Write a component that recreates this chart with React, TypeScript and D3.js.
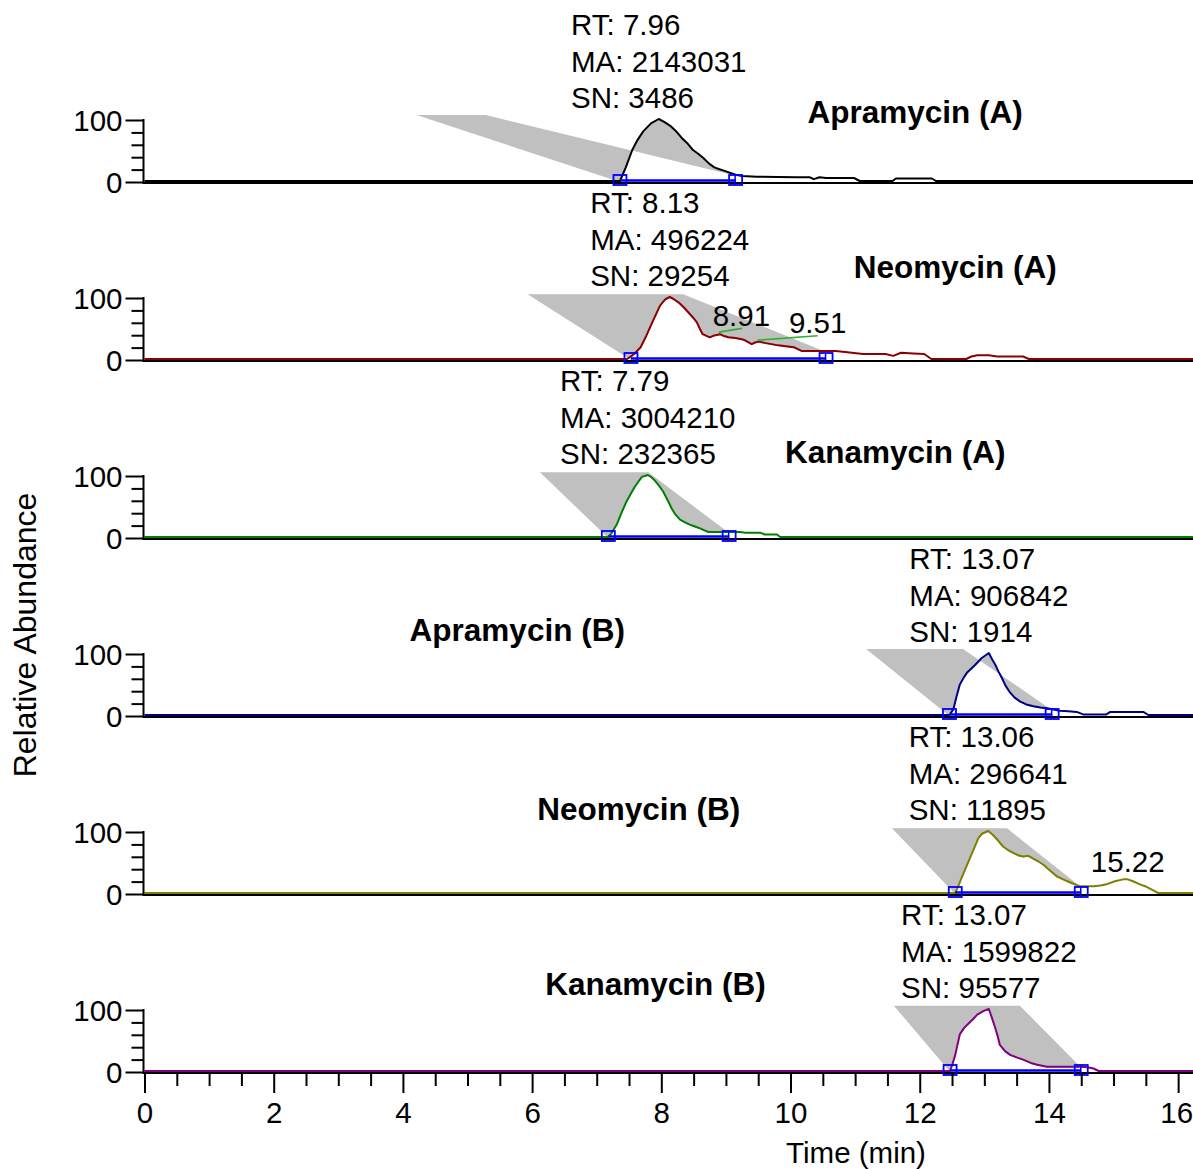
import { useRef, useEffect } from "react";
import * as d3 from "d3";

// compound panels, top to bottom
const compounds = ["Apramycin (A)", "Neomycin (A)", "Kanamycin (A)", "Apramycin (B)", "Neomycin (B)", "Kanamycin (B)"];
const traceColors = ["#000000", "#8b0000", "#008000", "#000080", "#808000", "#800080"];

const rtValues = [7.96, 8.13, 7.79, 13.07, 13.06, 13.07];
const maValues = [2143031, 496224, 3004210, 906842, 296641, 1599822];
const snValues = [3486, 29254, 232365, 1914, 11895, 95577];

// integration window (min)
const peakStarts = [7.36, 7.53, 7.18, 12.46, 12.55, 12.47];
const peakEnds = [9.15, 10.55, 9.05, 14.05, 14.5, 14.5];
// grey shading corners (min, % at top)
const shadeLeft = [4.21, 5.93, 6.12, 11.17, 11.57, 11.6];
const shadeRight = [5.28, 8.34, 7.8, 12.67, 13.35, 13.55];
const shadeTop = [108, 106, 106, 108, 106, 107];

// chromatogram traces [time, relative abundance]
const traceApraA = [[0, 0], [7.36, 0], [7.45, 22], [7.55, 50], [7.63, 66], [7.72, 80], [7.84, 93], [7.96, 100], [8.05, 95], [8.15, 88], [8.24, 79], [8.32, 69], [8.41, 60], [8.49, 50], [8.57, 44], [8.65, 37], [8.74, 28], [8.82, 22], [8.9, 19], [8.99, 16], [9.07, 13], [9.15, 10], [9.25, 8], [9.48, 7], [9.8, 6.5], [10.1, 6], [10.3, 6], [10.36, 3], [10.45, 6], [10.55, 5], [10.7, 5], [10.98, 5], [11.07, 0], [11.58, 0], [11.63, 4], [12.19, 4], [12.25, 0], [16.23, 0]];
const traceNeoA = [[0, 0], [7.47, 0], [7.58, 8], [7.68, 19], [7.77, 38], [7.86, 59], [7.98, 86], [8.06, 96], [8.13, 100], [8.2, 96], [8.27, 91], [8.35, 83], [8.42, 75], [8.49, 67], [8.55, 59], [8.6, 48], [8.64, 40], [8.75, 35], [8.82, 38], [8.91, 40], [8.97, 37], [9.04, 35], [9.15, 34], [9.28, 31], [9.4, 24], [9.46, 27], [9.51, 28], [9.6, 26], [9.81, 22], [10.05, 19], [10.17, 13], [10.52, 13], [10.7, 13], [10.88, 11], [11.12, 8], [11.47, 8], [11.59, 5], [11.71, 10], [11.9, 9], [12.07, 8], [12.18, 0], [12.72, 0], [12.8, 4], [12.89, 6], [13.07, 6], [13.2, 4], [13.6, 4], [13.69, 0], [16.23, 0]];
const traceKanaA = [[0, 0], [7.18, 0], [7.24, 8], [7.31, 20], [7.38, 38], [7.46, 57], [7.53, 70], [7.59, 81], [7.65, 90], [7.7, 97], [7.79, 100], [7.84, 97], [7.9, 91], [7.97, 82], [8.03, 73], [8.1, 59], [8.16, 46], [8.22, 36], [8.29, 28], [8.36, 24], [8.44, 20], [8.52, 17], [8.6, 14], [8.66, 11], [8.73, 8], [9.22, 8], [9.3, 7], [9.53, 7], [9.6, 4], [9.79, 4], [9.84, 0], [16.23, 0]];
const traceApraB = [[0, 0], [12.46, 0], [12.52, 9], [12.57, 30], [12.62, 49], [12.68, 60], [12.73, 68], [12.8, 75], [12.86, 81], [12.96, 92], [13.07, 100], [13.12, 90], [13.17, 81], [13.22, 70], [13.27, 60], [13.33, 47], [13.4, 36], [13.47, 28], [13.55, 22], [13.65, 17], [13.76, 14], [13.87, 12], [13.97, 11], [14.07, 9], [14.17, 7], [14.3, 6], [14.43, 5], [14.53, 1], [14.89, 1], [14.95, 5], [15.46, 5], [15.54, 0], [16.23, 0]];
const traceNeoB = [[0, 0], [12.55, 0], [12.6, 12], [12.65, 25], [12.72, 42], [12.78, 57], [12.85, 74], [12.91, 89], [12.97, 96], [13.06, 100], [13.13, 94], [13.21, 85], [13.29, 75], [13.37, 69], [13.44, 65], [13.52, 61], [13.6, 59], [13.68, 60], [13.73, 57], [13.82, 52], [13.91, 46], [14.02, 36], [14.12, 27], [14.22, 22], [14.33, 17], [14.42, 13], [14.48, 11], [14.69, 11], [14.8, 12], [14.89, 14], [15.02, 19], [15.15, 22], [15.22, 22], [15.3, 19], [15.41, 14], [15.51, 10], [15.6, 5], [15.69, 0], [16.23, 0]];
const traceKanaB = [[0, 0], [12.47, 0], [12.51, 12], [12.55, 26], [12.59, 45], [12.62, 59], [12.69, 70], [12.76, 77], [12.82, 83], [12.89, 91], [12.99, 97], [13.07, 100], [13.12, 85], [13.17, 69], [13.21, 55], [13.24, 42], [13.32, 32], [13.4, 26], [13.5, 22], [13.61, 18], [13.72, 13], [13.82, 10], [13.97, 7], [14.48, 7], [14.6, 6], [14.69, 4], [14.77, 0], [16.23, 0]];
const traces = [traceApraA, traceNeoA, traceKanaA, traceApraB, traceNeoB, traceKanaB];

// extra peak labels (panel index, text, anchor time, anchor %)
const noteLabels = ["8.91", "9.51", "15.22"];
const notePanels = [1, 1, 4];
const noteTimes = [9.24, 10.42, 15.22];
const noteLevels = [55, 44, 35];
const leaderLines = [[[8.89, 45], [9.25, 51]], [[9.49, 32], [10.42, 39]], null];

const timeTicks = d3.range(0, 17, 2);
const minorTimeTicks = d3.range(0, 16.01, 0.5).filter(t => t % 2 !== 0);

// title layout: centre time and offset above the 100% line
const titleTimes = [11.93, 12.55, 11.62, 5.77, 7.65, 7.91];
const titleOffsets = [8, 31, 24, 24, 23, 26];

const W = 1193;
const H = 1169;
const tMax = 16.23;
const firstTop = 120;
const panelStep = 178;
const panelH = 62;
const FONT = "'Liberation Sans', Arial, Helvetica, sans-serif";

export default function App() {
  const ref = useRef<SVGSVGElement>(null);

  useEffect(() => {
    const svg = d3.select(ref.current);
    svg.selectAll("*").remove();
    svg.attr("font-family", FONT);

    const x = d3.scaleLinear().domain([0, tMax]).range([144.5, W]);

    const valueAt = (trace: number[][], t: number) => {
      const i = d3.bisector((d: number[]) => d[0]).left(trace, t);
      if (i <= 0) return trace[0][1];
      if (i >= trace.length) return trace[trace.length - 1][1];
      const a = trace[i - 1], b = trace[i];
      return a[1] + (b[1] - a[1]) * (t - a[0]) / (b[0] - a[0]);
    };

    compounds.forEach((name, i) => {
      const top = firstTop + i * panelStep;
      const y = d3.scaleLinear().domain([0, 100]).range([top + panelH, top]);
      const y0 = y(0);
      const g = svg.append("g");
      const trace = traces[i];
      const s = peakStarts[i];
      const e = peakEnds[i];

      // grey peak shading
      const inner = trace.filter(d => d[0] > s && d[0] < e);
      const poly = [[s, 0], ...inner, [e, valueAt(trace, e)], [shadeRight[i], shadeTop[i]], [shadeLeft[i], shadeTop[i]]];
      g.append("path")
        .attr("d", d3.line<number[]>().x(d => x(d[0])).y(d => y(d[1]))(poly) + "Z")
        .attr("fill", "#c0c0c0");

      // baseline
      g.append("line")
        .attr("x1", x(0) - 1).attr("x2", W)
        .attr("y1", y0 + 1).attr("y2", y0 + 1)
        .attr("stroke", "#000").attr("stroke-width", 2);

      // trace
      g.append("path")
        .attr("d", d3.line<number[]>().x(d => x(d[0])).y(d => y(d[1]) - 1)(trace))
        .attr("fill", "none")
        .attr("stroke", traceColors[i])
        .attr("stroke-width", 2)
        .attr("stroke-linejoin", "round");

      // integration baseline and markers
      g.append("line")
        .attr("x1", x(s)).attr("x2", x(e))
        .attr("y1", y0 - 1.5).attr("y2", y0 - 1.5)
        .attr("stroke", "#0000ff").attr("stroke-width", 2.5);
      [s, e].forEach((t, k) => {
        g.append("rect")
          .attr("x", x(t) - 6.5).attr("y", y0 - 7)
          .attr("width", 13).attr("height", 10)
          .attr("fill", "none").attr("stroke", "#0000ff").attr("stroke-width", 1.8);
        if (k === 1) {
          g.append("line")
            .attr("x1", x(t) - 0.5).attr("x2", x(t) - 0.5)
            .attr("y1", y0 - 7).attr("y2", y0 + 3)
            .attr("stroke", "#0000ff").attr("stroke-width", 1.5);
        }
      });

      // y axis
      const yAxis = g.append("g")
        .attr("transform", "translate(143.5,0)")
        .call(d3.axisLeft(y).tickValues([0, 100]).tickSize(18).tickSizeOuter(0).tickPadding(3));
      yAxis.select(".domain").remove();
      yAxis.selectAll("line").attr("stroke-width", 2);
      yAxis.selectAll("text").attr("font-size", 29.5).attr("font-family", FONT).attr("fill", "#000").attr("dy", "0.36em");
      const yMinor = g.append("g")
        .attr("transform", "translate(143.5,0)")
        .call(d3.axisLeft(y).tickValues([20, 40, 60, 80]).tickSize(12).tickFormat(() => ""));
      yMinor.select(".domain").remove();
      yMinor.selectAll("line").attr("stroke-width", 2);
      g.append("line")
        .attr("x1", 143.5).attr("x2", 143.5)
        .attr("y1", y(100) - 1).attr("y2", y0 + 2)
        .attr("stroke", "#000").attr("stroke-width", 2);

      // RT / MA / SN block centred on the apex
      const block = g.append("g");
      const lines = [`RT: ${rtValues[i].toFixed(2)}`, `MA: ${maValues[i]}`, `SN: ${snValues[i]}`];
      lines.forEach((txt, k) => {
        block.append("text")
          .attr("x", 0)
          .attr("y", top - 12 - (2 - k) * 36.3)
          .attr("font-size", 29.5)
          .attr("fill", "#000")
          .text(txt);
      });
      const bw = (block.node() as SVGGElement).getBBox().width;
      block.attr("transform", `translate(${x(rtValues[i]) - bw / 2},0)`);

      // compound title
      g.append("text")
        .attr("x", x(titleTimes[i]))
        .attr("y", top - titleOffsets[i] + 11.2)
        .attr("text-anchor", "middle")
        .attr("font-size", 31.5)
        .attr("font-weight", "bold")
        .attr("fill", "#000")
        .text(name);
    });

    // extra peak labels
    noteLabels.forEach((label, k) => {
      const top = firstTop + notePanels[k] * panelStep;
      const y = d3.scaleLinear().domain([0, 100]).range([top + panelH, top]);
      const ll = leaderLines[k];
      if (ll) {
        svg.append("line")
          .attr("x1", x(ll[0][0])).attr("y1", y(ll[0][1]))
          .attr("x2", x(ll[1][0])).attr("y2", y(ll[1][1]))
          .attr("stroke", "#33b033").attr("stroke-width", 1.6);
      }
      svg.append("text")
        .attr("x", x(noteTimes[k]))
        .attr("y", y(noteLevels[k]))
        .attr("text-anchor", "middle")
        .attr("font-size", 29.5)
        .attr("fill", "#000")
        .text(label);
    });

    // time axis under the last panel
    const lastBase = firstTop + (compounds.length - 1) * panelStep + panelH;
    const xAxis = svg.append("g")
      .attr("transform", `translate(0,${lastBase + 1})`)
      .call(d3.axisBottom(x).tickValues(timeTicks).tickSize(20).tickPadding(9).tickFormat(d3.format("d")));
    xAxis.select(".domain").remove();
    xAxis.selectAll("line").attr("stroke-width", 2);
    xAxis.selectAll("text").attr("font-size", 29.5).attr("font-family", FONT).attr("fill", "#000");
    // keep the last label inside the frame
    xAxis.selectAll<SVGTextElement, number>("text").filter(d => d === 16).attr("dx", -2);
    const xMinor = svg.append("g")
      .attr("transform", `translate(0,${lastBase + 1})`)
      .call(d3.axisBottom(x).tickValues(minorTimeTicks).tickSize(13).tickFormat(() => ""));
    xMinor.select(".domain").remove();
    xMinor.selectAll("line").attr("stroke-width", 2);

    svg.append("text")
      .attr("x", 856)
      .attr("y", 1163)
      .attr("text-anchor", "middle")
      .attr("font-size", 29.5)
      .attr("fill", "#000")
      .text("Time (min)");

    svg.append("text")
      .attr("transform", "translate(36,635) rotate(-90)")
      .attr("text-anchor", "middle")
      .attr("font-size", 32)
      .attr("fill", "#000")
      .text("Relative Abundance");
  }, []);

  return (
    <svg
      ref={ref}
      width={W}
      height={H}
      style={{ position: "absolute", left: 0, top: 0, background: "#fff" }}
    />
  );
}
